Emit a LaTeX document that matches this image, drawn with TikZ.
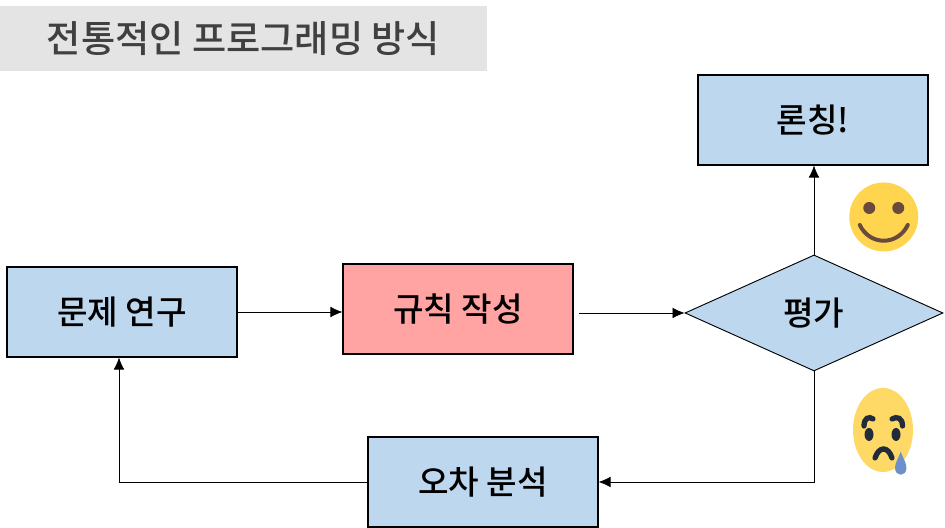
\documentclass[tikz,border=0pt]{standalone}
\usepackage{fontspec}
\setmainfont{Noto Sans CJK KR Medium}
\usetikzlibrary{arrows.meta,shapes.geometric,positioning,calc}
\definecolor{boxblue}{HTML}{BDD7EE}
\definecolor{boxred}{HTML}{FFA3A3}
\definecolor{titlegray}{HTML}{E4E4E4}
\definecolor{smileyellow}{HTML}{FFD54F}
\definecolor{sadyellow}{HTML}{FFD966}
\definecolor{smilebrown}{HTML}{6B4A3E}
\definecolor{saddark}{HTML}{222B3A}
\definecolor{tearblue}{HTML}{6F8FCB}
\begin{document}
\begin{tikzpicture}[
    box/.style={draw, line width=0.9pt, minimum width=6.085cm, minimum height=2.381cm, align=center, font=\fontsize{25}{30}\selectfont, fill=boxblue},
    dec/.style={draw, line width=0.7pt, diamond, aspect=2.224, inner sep=0pt, minimum width=6.825cm, minimum height=3.069cm, align=center, font=\fontsize{25}{30}\selectfont, fill=boxblue},
    titlebox/.style={minimum width=12.88cm, minimum height=1.72cm, font=\fontsize{28}{32}\selectfont, fill=titlegray, text=black!75},
    arr/.style={-{Latex[length=9pt,width=8pt]}, line width=0.5pt},
    face/.style={x=0.02646cm, y=0.02646cm}
]
\useasboundingbox (0,0) rectangle (25,13.968);
\node[titlebox] (title) at (6.442,12.950) {전통적인 프로그래밍 방식};
\node[box] (launch) at (21.508,10.794) {론칭!};
\node[box] (study) at (3.228,5.714) {문제 연구};
\node[box, fill=boxred] (rule) at (12.116,5.794) {규칙 작성};
\node[dec] (eval) at (21.534,5.688) {평가};
\node[box] (err) at (12.778,1.217) {오차 분석};

\draw[arr] (study.east) -- (rule.west |- study.east);
\draw[arr, shorten <=4pt] (rule.east |- eval.west) -- (eval.west);
\draw[arr] (eval.north) -- (launch.south -| eval.north);
\draw[arr] (eval.south) |- (err.east);
\draw[arr] (err.west) -| ($(study.south)+(-0.08,0)$);

\begin{scope}[face, shift={(23.38cm,8.228cm)}]
\fill[smileyellow] (0,0) circle (34.5);
\fill[smilebrown] (-14.5,9) circle (6) (14.5,9) circle (6);
\draw[smilebrown, line width=3pt, line cap=round] (-24,-8) .. controls (-14,-29) and (14,-29) .. (24,-8);
\end{scope}
\begin{scope}[face, shift={(23.36cm,2.593cm)}]
\fill[sadyellow] (0,0) ellipse (30 and 42);
\fill[saddark] (-14,-4.5) ellipse (4.5 and 6.5) (13,-4.5) ellipse (4.5 and 6.5);
\draw[saddark, line width=4pt, line cap=round] (-19,4) .. controls (-19,12) and (-14,14) .. (-10,11);
\draw[saddark, line width=4pt, line cap=round] (19.5,4) .. controls (19.5,12) and (14,14) .. (9,11);
\draw[saddark, line width=4pt, line cap=round] (-8,-28) .. controls (-4,-16) and (5,-16) .. (9,-28);
\fill[tearblue] (17.7,-21.7) .. controls (15,-29) and (12,-33) .. (12,-38) .. controls (12,-47) and (23.4,-47) .. (23.4,-38) .. controls (23.4,-33) and (20.4,-29) .. (17.7,-21.7);
\end{scope}
\end{tikzpicture}
\end{document}
